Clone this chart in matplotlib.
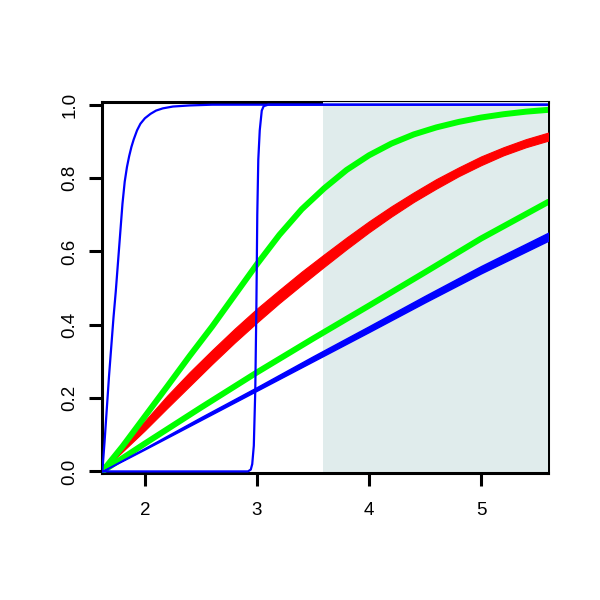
import matplotlib as mpl
mpl.use('Agg')
import matplotlib.pyplot as plt

plt.rcParams['font.family'] = ['Liberation Sans', 'DejaVu Sans']

# axis range and shaded interval
x_range = [1.62, 5.6]
y_range = [-0.003, 1.006]
shade_from = 3.59

# steep blue curve on the left
steep_x = [1.62, 1.64, 1.66, 1.68, 1.70, 1.72, 1.74, 1.76, 1.78, 1.80, 1.82, 1.84, 1.86, 1.88, 1.90,
           1.93, 1.96, 2.00, 2.05, 2.10, 2.16, 2.25, 2.4, 2.6, 5.6]
steep_y = [0.0, 0.08, 0.17, 0.26, 0.34, 0.42, 0.49, 0.57, 0.65, 0.73, 0.79, 0.83, 0.86, 0.885, 0.905,
           0.93, 0.948, 0.963, 0.975, 0.984, 0.99, 0.995, 0.998, 1.0, 1.0]

# blue step near 3
step_x = [1.62, 2.92, 2.945, 2.958, 2.972, 2.985, 2.995, 3.003, 3.012, 3.025, 3.043, 3.06, 3.1, 5.6]
step_y = [0.0, 0.0, 0.005, 0.02, 0.07, 0.22, 0.45, 0.7, 0.85, 0.93, 0.984, 0.996, 1.0, 1.0]

# upper green curve
gup_x = [1.62, 1.8, 2.0, 2.2, 2.4, 2.6, 2.8, 3.0, 3.2, 3.4, 3.6, 3.8, 4.0, 4.2, 4.4, 4.6, 4.8, 5.0, 5.2, 5.4, 5.6]
gup_y = [0.0, 0.068, 0.15, 0.232, 0.315, 0.395, 0.48, 0.565, 0.645, 0.715, 0.772, 0.822, 0.862, 0.894,
         0.919, 0.938, 0.953, 0.965, 0.974, 0.981, 0.986]

# lower green curve
glo_x = [1.62, 2.0, 2.5, 3.0, 3.5, 4.0, 4.5, 5.0, 5.6]
glo_y = [0.0, 0.076, 0.174, 0.27, 0.362, 0.452, 0.543, 0.635, 0.735]

# red band
red_x = [1.62, 1.73, 1.8, 2.0, 2.2, 2.4, 2.6, 2.8, 3.0, 3.2, 3.4, 3.6, 3.8, 4.0, 4.2, 4.4, 4.6, 4.8, 5.0, 5.2, 5.4, 5.6]
red_lo = [0.0, 0.034, 0.054, 0.112, 0.173, 0.233, 0.293, 0.351, 0.406, 0.459, 0.509, 0.558, 0.606, 0.652,
          0.695, 0.735, 0.771, 0.805, 0.835, 0.862, 0.884, 0.902]
red_hi = [0.0, 0.038, 0.066, 0.138, 0.207, 0.271, 0.331, 0.389, 0.444, 0.495, 0.545, 0.592, 0.638, 0.682,
          0.723, 0.761, 0.797, 0.829, 0.859, 0.884, 0.906, 0.924]

# lower blue band
blo_x = [1.62, 2.0, 2.5, 3.0, 3.5, 4.0, 4.5, 5.0, 5.6]
blo_lo = [0.0, 0.060, 0.140, 0.220, 0.300, 0.380, 0.461, 0.540, 0.629]
blo_hi = [0.001, 0.064, 0.148, 0.230, 0.314, 0.396, 0.479, 0.560, 0.651]

xticks = [2, 3, 4, 5]
yticks = [0.0, 0.2, 0.4, 0.6, 0.8, 1.0]
ytick_labels = ["0.0", "0.2", "0.4", "0.6", "0.8", "1.0"]

fig = plt.figure(figsize=(6, 6), dpi=100)
ax = fig.add_axes([102.3/600, 127.5/600, 446/600, 370/600])

ax.set_xlim(x_range)
ax.set_ylim(y_range)

for s in ax.spines.values():
    s.set_linewidth(2.2)
ax.spines['bottom'].set_zorder(3)

ax.axvspan(shade_from, x_range[1], color='#E0ECEC', lw=0, zorder=2.6)

ax.fill_between(red_x, red_lo, red_hi, color='red', lw=0.8, edgecolor='red', zorder=4)
ax.plot(gup_x, gup_y, color='#00FF00', lw=4.3, zorder=5, solid_capstyle='round')
ax.plot(glo_x, glo_y, color='#00FF00', lw=4.3, zorder=5, solid_capstyle='round')
ax.fill_between(blo_x, blo_lo, blo_hi, color='blue', lw=1.0, edgecolor='blue', zorder=6)
ax.plot(steep_x, steep_y, color='blue', lw=1.6, zorder=6)
ax.plot(step_x, step_y, color='blue', lw=1.6, zorder=6)

ax.set_xticks(xticks)
ax.set_yticks(yticks)
ax.set_yticklabels(ytick_labels, rotation=90, va='center')
ax.tick_params(axis='both', direction='out', length=9.4, width=2.2, labelsize=13.5)
ax.tick_params(axis='x', pad=12)
ax.tick_params(axis='y', pad=8)

plt.savefig("out.png", dpi=100)
